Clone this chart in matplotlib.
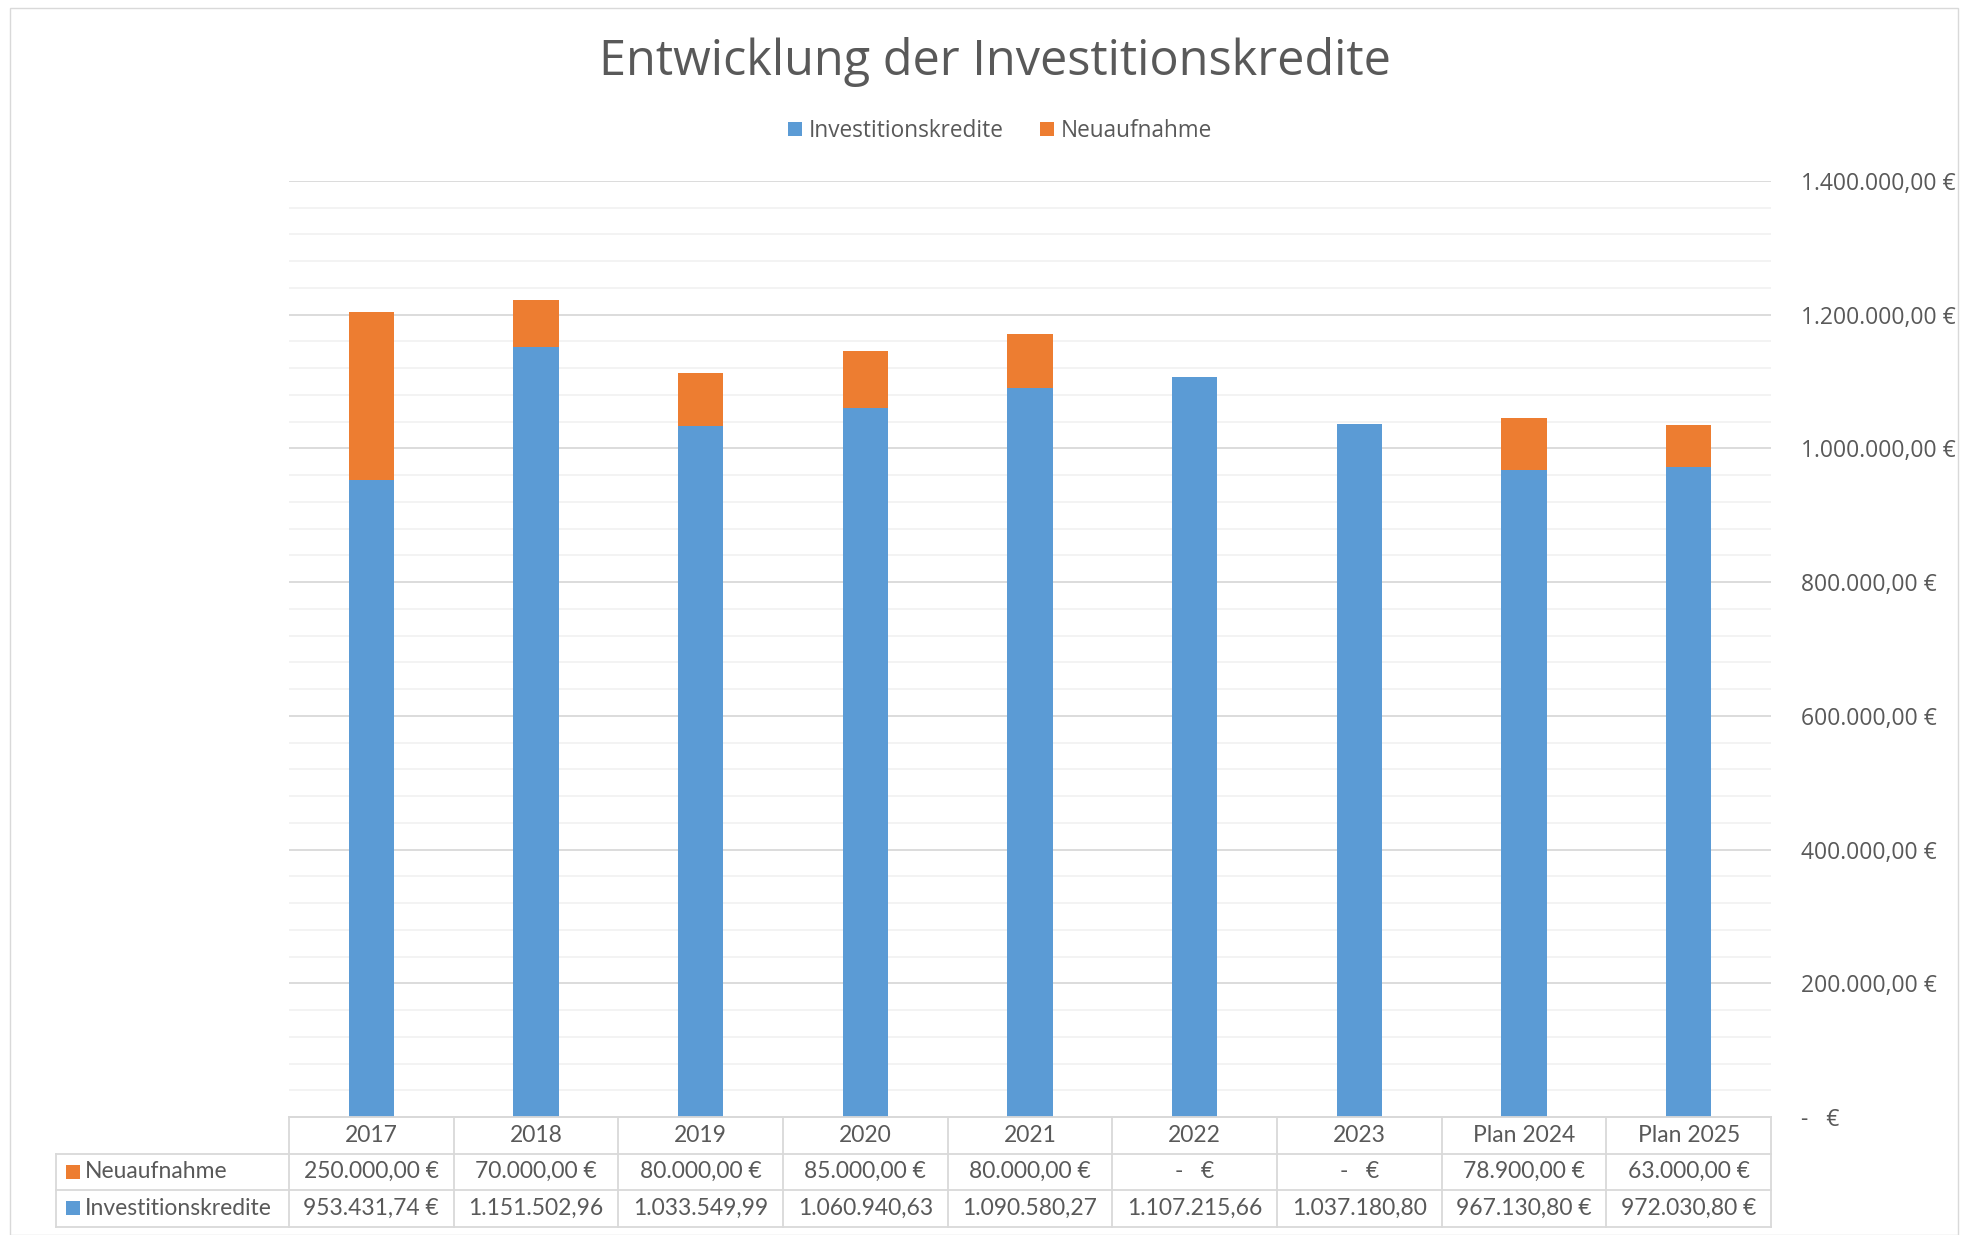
import matplotlib
matplotlib.use("Agg")
import matplotlib.pyplot as plt
import matplotlib.transforms as mtransforms
from matplotlib.patches import Rectangle
from matplotlib.ticker import MultipleLocator, FixedLocator
import numpy as np

categories = ["2017", "2018", "2019", "2020", "2021", "2022", "2023", "Plan 2024", "Plan 2025"]
investitionskredite = [953431.74, 1151502.96, 1033549.99, 1060940.63, 1090580.27,
                       1107215.66, 1037180.80, 967130.80, 972030.80]
neuaufnahme = [250000.00, 70000.00, 80000.00, 85000.00, 80000.00, 0.0, 0.0, 78900.00, 63000.00]
neu_labels = ["250.000,00 €", "70.000,00 €", "80.000,00 €", "85.000,00 €", "80.000,00 €",
              "-   €", "-   €", "78.900,00 €", "63.000,00 €"]
inv_labels = ["953.431,74 €", "1.151.502,96", "1.033.549,99", "1.060.940,63", "1.090.580,27",
              "1.107.215,66", "1.037.180,80", "967.130,80 €", "972.030,80 €"]
ytick_values = [0, 200000, 400000, 600000, 800000, 1000000, 1200000, 1400000]
ytick_labels = ["-   €", "200.000,00 €", "400.000,00 €", "600.000,00 €", "800.000,00 €",
                "1.000.000,00 €", "1.200.000,00 €", "1.400.000,00 €"]

BLUE = "#5B9BD5"
ORANGE = "#ED7D31"
TXT = "#595959"
GRID = "#d9d9d9"
FONT = "Open Sans"
TFONT = "Lato"

W, H = 1968, 1235
fig = plt.figure(figsize=(W / 100, H / 100), dpi=100)
fig.patch.set_facecolor("white")

# outer faint border
fig.add_artist(Rectangle((10 / W, 0), 1 - 20 / W, 1 - 8 / H, transform=fig.transFigure,
                         fill=False, edgecolor="#d9d9d9", lw=1))

left, right, top, bottom = 289 / W, 1771 / W, 1 - 181 / H, 1 - 1117 / H
ax = fig.add_axes([left, bottom, right - left, top - bottom])

x = np.arange(len(categories))
bw = 0.275
ax.bar(x, investitionskredite, bw, color=BLUE, label="Investitionskredite", zorder=3)
ax.bar(x, neuaufnahme, bw, bottom=investitionskredite, color=ORANGE, label="Neuaufnahme", zorder=3)

ax.set_xlim(-0.5, len(categories) - 0.5)
ax.set_ylim(0, 1400000)
ax.yaxis.set_major_locator(FixedLocator(ytick_values))
ax.set_yticklabels(ytick_labels)
ax.yaxis.set_minor_locator(MultipleLocator(40000))
ax.yaxis.tick_right()
ax.tick_params(axis="y", which="both", length=0, pad=21.5, labelsize=16.5, labelcolor=TXT)
for lab in ax.get_yticklabels():
    lab.set_fontfamily(FONT)
ax.set_xticks([])
ax.grid(axis="y", which="major", color=GRID, lw=1.3, zorder=0)
ax.grid(axis="y", which="minor", color="#f0f0f0", lw=1.1, zorder=0)
for s in ["top", "right", "left"]:
    ax.spines[s].set_visible(False)
ax.spines["bottom"].set_color(GRID)
ax.spines["bottom"].set_linewidth(1.3)

# data table below axes
trans = mtransforms.blended_transform_factory(ax.transData, fig.transFigure)
rowh = 36.5 / H
y0 = 1 - 1117 / H
rows_y = [y0, y0 - rowh, y0 - 2 * rowh, y0 - 3 * rowh]
n = len(categories)
tab_left = 56 / W
lc = dict(color=GRID, lw=1.3, clip_on=False)
fig.add_artist(plt.Line2D([left, right], [rows_y[0]] * 2, transform=fig.transFigure, **lc))
for yy in rows_y[1:]:
    fig.add_artist(plt.Line2D([tab_left, right], [yy] * 2, transform=fig.transFigure, **lc))
for i in range(n + 1):
    xx = left + (right - left) * i / n
    fig.add_artist(plt.Line2D([xx, xx], [rows_y[3], rows_y[0]], transform=fig.transFigure, **lc))
fig.add_artist(plt.Line2D([tab_left, tab_left], [rows_y[3], rows_y[1]], transform=fig.transFigure, **lc))

tfs = 16.5
for i, c in enumerate(categories):
    fig.text(x[i], (rows_y[0] + rows_y[1]) / 2, c, transform=trans, ha="center", va="center",
             fontsize=tfs, color=TXT, family=TFONT)
    fig.text(x[i], (rows_y[1] + rows_y[2]) / 2, neu_labels[i], transform=trans, ha="center",
             va="center", fontsize=tfs, color=TXT, family=TFONT)
    fig.text(x[i], (rows_y[2] + rows_y[3]) / 2, inv_labels[i], transform=trans, ha="center",
             va="center", fontsize=tfs, color=TXT, family=TFONT)

sq = 14
for yy, (name, col) in zip([(rows_y[1] + rows_y[2]) / 2, (rows_y[2] + rows_y[3]) / 2],
                            [("Neuaufnahme", ORANGE), ("Investitionskredite", BLUE)]):
    fig.add_artist(Rectangle((66 / W, yy - sq / 2 / H), sq / W, sq / H, transform=fig.transFigure,
                             color=col, lw=0))
    fig.text(85 / W, yy, name, ha="left", va="center", fontsize=tfs, color=TXT, family=TFONT)

fig.text(995 / W, 1 - 62 / H, "Entwicklung der Investitionskredite", ha="center", va="center",
         fontsize=35, color=TXT, family=FONT)

leg = fig.legend(loc="center", bbox_to_anchor=(1000 / W, 1 - 131 / H), ncol=2, frameon=False,
                 handlelength=0.6, handleheight=0.6, handletextpad=0.3,
                 columnspacing=1.6, prop={"family": FONT, "size": 16.3})
for t in leg.get_texts():
    t.set_color(TXT)

fig.savefig("out.png", dpi=100, facecolor="white")
